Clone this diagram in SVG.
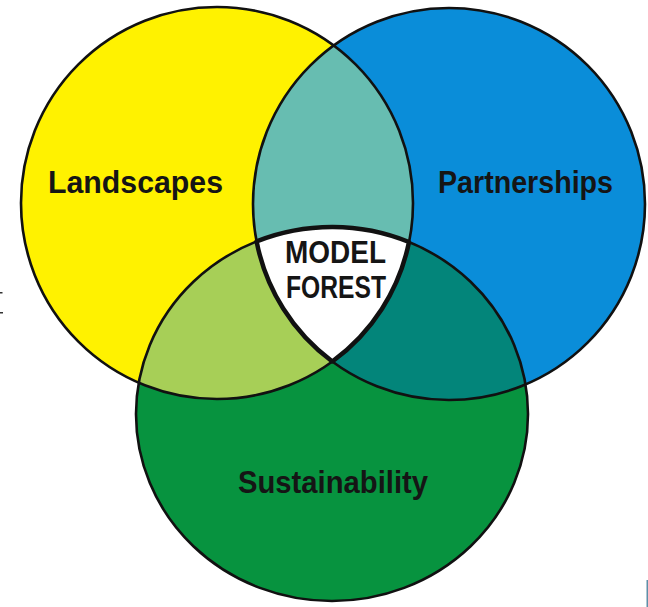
<svg xmlns="http://www.w3.org/2000/svg" width="648" height="607" viewBox="0 0 648 607">
  <style>
    .lbl { font-family: "Liberation Sans", Arial, sans-serif; font-weight: bold; fill: #151515; }
    .edge { fill: none; stroke: #111; stroke-width: 2.6; }
    .core { fill: #ffffff; stroke: #111; stroke-width: 4.5; stroke-linejoin: round; }
  </style>
  <defs>
    <clipPath id="clipYellow"><circle cx="217" cy="203" r="196"/></clipPath>
    <clipPath id="clipBlue"><circle cx="449" cy="204" r="196"/></clipPath>
  </defs>
  <rect width="648" height="607" fill="#ffffff"/>

  <g id="landscapes">
    <circle cx="217" cy="203" r="196" fill="#FFF200"/>
  </g>
  <g id="partnerships">
    <circle cx="449" cy="204" r="196" fill="#0A8DD9"/>
  </g>
  <g id="sustainability">
    <ellipse cx="332" cy="414" rx="196" ry="187" fill="#07933F"/>
  </g>
  <g id="overlaps">
    <path d="M333.7 45.5 A196 196 0 0 1 332.3 361.5 A196 196 0 0 1 333.7 45.5 Z" fill="#67BDB1"/>
    <ellipse cx="332" cy="414" rx="196" ry="187" fill="#A7CF57" clip-path="url(#clipYellow)"/>
    <ellipse cx="332" cy="414" rx="196" ry="187" fill="#03857A" clip-path="url(#clipBlue)"/>
  </g>
  <g id="outlines">
    <circle class="edge" cx="217" cy="203" r="196"/>
    <circle class="edge" cx="449" cy="204" r="196"/>
    <ellipse class="edge" cx="332" cy="414" rx="196" ry="187"/>
  </g>
  <g id="model-forest">
    <path class="core" d="M256.6 241.4 A196 187 0 0 1 409 242 A196 196 0 0 1 332.3 361.5 A196 196 0 0 1 256.6 241.4 Z"/>
    <text class="lbl" x="335.5" y="263" font-size="31" text-anchor="middle" textLength="101" lengthAdjust="spacingAndGlyphs">MODEL</text>
    <text class="lbl" x="336" y="298" font-size="31" text-anchor="middle" textLength="100" lengthAdjust="spacingAndGlyphs">FOREST</text>
  </g>
  <g id="labels">
    <text class="lbl" x="48" y="193" font-size="31" textLength="175" lengthAdjust="spacingAndGlyphs">Landscapes</text>
    <text class="lbl" x="438" y="192.5" font-size="31" textLength="175" lengthAdjust="spacingAndGlyphs">Partnerships</text>
    <text class="lbl" x="238" y="493" font-size="32" textLength="190" lengthAdjust="spacingAndGlyphs">Sustainability</text>
  </g>
  <g id="edge-marks">
    <rect x="0" y="292" width="2.5" height="1.5" fill="#333"/>
    <rect x="0" y="312" width="3" height="1.5" fill="#333"/>
    <rect x="646.5" y="580" width="1.5" height="27" fill="#5E8FA8"/>
  </g>
</svg>
